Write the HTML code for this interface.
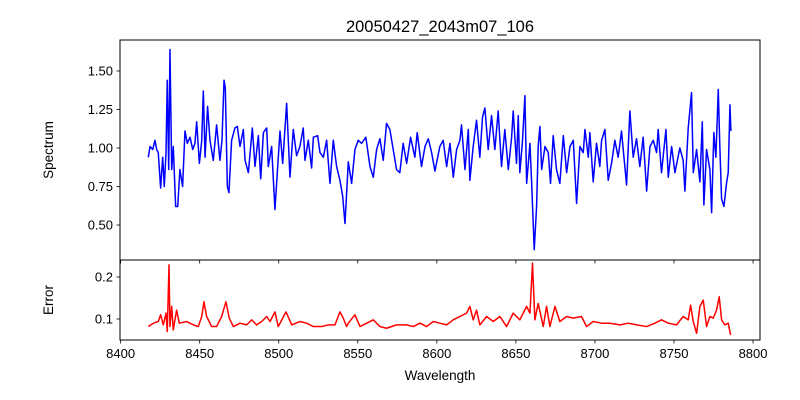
<!DOCTYPE html>
<html><head><meta charset="utf-8"><style>
body{margin:0;background:#fff}
svg{display:block;font-family:"Liberation Sans","DejaVu Sans",sans-serif}
</style></head><body>
<svg id="chart" width="800" height="400" viewBox="0 0 800 400" xmlns="http://www.w3.org/2000/svg">
<rect width="800" height="400" fill="#fff"/>
<text x="440" y="32" font-size="16.5" text-anchor="middle">20050427_2043m07_106</text>
<text x="53" y="150" font-size="13.5" text-anchor="middle" transform="rotate(-90 53 150)">Spectrum</text>
<text x="53" y="300" font-size="13.5" text-anchor="middle" transform="rotate(-90 53 300)">Error</text>
<text x="440" y="380" font-size="13.5" text-anchor="middle">Wavelength</text>
<g id="plots"></g>
</svg>
<script>
const specWl=[8417.5,8418.6,8420.3,8421.7,8422.8,8423.8,8425.3,8426.6,8427.6,8428.7,8429.5,8430.4,8431.2,8432.3,8433.3,8434.8,8436.1,8437.5,8439.2,8440.7,8442.2,8443.9,8445.6,8447.0,8448.1,8449.8,8451.3,8452.3,8453.4,8455.0,8456.5,8458.6,8460.7,8462.8,8464.1,8465.4,8466.2,8467.5,8468.5,8470.2,8472.3,8473.8,8475.5,8477.6,8478.7,8480.8,8483.3,8485.0,8487.1,8488.6,8490.3,8492.4,8493.4,8495.5,8497.6,8499.1,8500.8,8502.5,8505.0,8507.1,8509.2,8511.3,8513.4,8515.5,8516.6,8518.7,8520.8,8521.9,8524.6,8526.1,8528.2,8530.3,8532.4,8534.5,8536.6,8538.7,8540.4,8541.9,8544.0,8546.1,8548.2,8550.3,8552.4,8555.1,8557.7,8559.8,8561.9,8564.0,8566.1,8568.2,8570.3,8572.4,8574.5,8576.6,8578.7,8580.9,8583.4,8586.1,8587.6,8590.3,8592.5,8594.6,8596.7,8598.8,8601.9,8604.0,8606.2,8608.3,8610.4,8612.5,8614.6,8615.6,8617.8,8619.9,8620.9,8623.0,8625.1,8627.2,8628.9,8630.4,8632.5,8634.6,8636.7,8638.8,8640.9,8643.0,8645.2,8647.3,8648.3,8650.4,8651.5,8652.5,8654.2,8655.7,8656.8,8658.9,8659.9,8661.6,8663.1,8664.1,8665.2,8666.3,8668.4,8670.5,8671.9,8673.6,8675.7,8677.8,8680.0,8682.1,8684.2,8686.3,8688.4,8690.5,8692.6,8693.7,8695.8,8696.8,8698.9,8701.0,8703.1,8704.2,8706.3,8708.4,8710.5,8712.6,8714.7,8716.8,8720.0,8722.1,8724.2,8726.3,8728.4,8730.5,8732.7,8734.8,8736.9,8739.0,8740.0,8742.1,8744.9,8746.4,8748.5,8750.6,8753.7,8755.8,8756.9,8759.0,8761.1,8762.2,8764.3,8766.4,8767.9,8768.9,8770.6,8772.7,8773.8,8775.2,8776.5,8778.0,8779.0,8780.1,8781.6,8783.2,8784.3,8785.4,8786.0];
const specFlux=[0.94,1.01,0.99,1.05,0.99,0.97,0.74,0.94,0.75,0.97,1.44,0.86,1.64,0.86,1.01,0.62,0.62,0.86,0.75,1.11,1.03,1.07,0.99,1.03,1.17,0.90,1.05,1.37,0.94,1.27,1.05,0.92,1.15,0.92,1.05,1.44,1.39,0.75,0.71,1.05,1.13,1.14,1.01,1.12,0.92,0.84,1.13,0.88,1.08,0.80,1.10,1.13,0.88,1.01,0.60,0.84,1.11,0.90,1.29,0.81,1.12,0.95,1.01,1.13,0.92,1.05,0.87,1.07,1.08,0.97,0.94,1.05,0.77,1.05,0.88,0.79,0.69,0.51,0.91,0.77,0.99,1.05,1.03,1.07,0.88,0.81,0.99,1.06,0.92,1.16,1.12,0.99,0.86,0.84,1.03,0.90,1.07,0.94,1.10,0.88,1.01,1.06,0.97,0.85,1.01,1.05,0.88,1.03,0.81,0.99,1.05,1.15,0.86,1.12,0.79,1.01,1.18,0.94,1.20,1.26,0.99,1.21,0.99,1.24,0.88,1.12,0.86,1.07,1.24,0.90,1.21,0.84,1.05,1.34,0.77,1.03,0.79,0.34,0.62,1.01,1.14,0.86,1.01,0.97,0.77,1.08,0.86,0.77,1.08,0.84,1.01,1.05,0.64,1.01,0.97,1.12,0.94,1.10,0.78,1.03,0.88,1.05,1.12,0.79,0.90,1.05,0.94,1.11,0.76,1.24,0.94,1.06,0.88,1.07,0.72,1.01,1.05,0.97,1.12,0.84,1.12,0.81,1.01,0.84,1.00,0.92,0.72,1.13,1.36,0.84,0.99,0.78,1.17,0.63,0.99,0.86,0.58,1.10,0.94,1.38,1.01,0.67,0.62,0.77,0.84,1.28,1.11];
const errWl=[8417.5,8420.7,8423.8,8425.3,8427.0,8428.7,8429.5,8430.6,8431.2,8432.3,8433.3,8435.4,8437.1,8441.8,8446.0,8449.1,8451.3,8452.7,8454.4,8457.6,8460.7,8463.9,8466.6,8468.7,8471.3,8475.5,8479.7,8482.9,8486.0,8489.2,8492.4,8494.5,8497.6,8499.7,8504.6,8508.2,8513.4,8517.6,8521.9,8527.1,8531.4,8535.6,8538.7,8540.8,8542.9,8544.0,8548.2,8551.4,8555.6,8559.8,8564.0,8568.2,8574.5,8580.9,8585.1,8589.3,8593.5,8597.8,8602.0,8606.2,8610.4,8614.6,8618.8,8620.9,8623.0,8625.1,8627.2,8631.5,8635.7,8639.9,8644.1,8648.3,8652.5,8656.8,8658.9,8660.5,8662.0,8664.1,8667.3,8669.4,8671.5,8674.7,8677.8,8682.1,8686.3,8691.5,8694.7,8698.9,8704.2,8709.5,8715.8,8721.1,8726.3,8732.7,8737.9,8742.1,8746.4,8751.6,8755.8,8759.0,8760.5,8762.2,8764.3,8766.4,8768.5,8770.6,8772.7,8774.8,8776.9,8778.6,8780.1,8782.2,8784.3,8785.8];
const errVal=[0.082,0.090,0.094,0.110,0.086,0.114,0.070,0.229,0.082,0.130,0.074,0.121,0.090,0.094,0.086,0.082,0.106,0.141,0.106,0.082,0.082,0.106,0.141,0.102,0.082,0.090,0.086,0.098,0.086,0.094,0.106,0.094,0.117,0.082,0.117,0.086,0.094,0.090,0.082,0.082,0.086,0.086,0.117,0.102,0.082,0.090,0.110,0.082,0.090,0.098,0.082,0.078,0.086,0.086,0.082,0.090,0.082,0.094,0.090,0.086,0.098,0.106,0.114,0.130,0.098,0.121,0.086,0.106,0.094,0.106,0.082,0.114,0.098,0.130,0.114,0.233,0.098,0.137,0.082,0.130,0.082,0.130,0.094,0.106,0.102,0.106,0.082,0.094,0.090,0.090,0.086,0.090,0.086,0.082,0.090,0.098,0.090,0.086,0.106,0.098,0.133,0.094,0.066,0.130,0.145,0.082,0.106,0.102,0.121,0.153,0.098,0.086,0.090,0.062];
const xTicks=[8400,8450,8500,8550,8600,8650,8700,8750,8800];
const specTicks=[0.50,0.75,1.00,1.25,1.50];
const specTickLabels=["0.50","0.75","1.00","1.25","1.50"];
const errTicks=[0.1,0.2];
const errTickLabels=["0.1","0.2"];

const NS="http://www.w3.org/2000/svg";
const L=120,R=760,T1=40,B1=260,T2=260,B2=340;
const xMin=8399.6,xMax=8804.4;
const xs=v=>L+(v-xMin)/(xMax-xMin)*(R-L);
const ys1=v=>71+(1.5-v)*154;
const ys2=v=>277+(0.2-v)*420;
const g=document.getElementById('plots');
function mk(tag,attrs){const e=document.createElementNS(NS,tag);for(const k in attrs)e.setAttribute(k,attrs[k]);g.appendChild(e);return e;}

function line(xArr,yArr,ys,color,name,top,bot){
  const cp=mk('clipPath',{id:'clip-'+name});
  const r=document.createElementNS(NS,'rect');r.setAttribute('x',L);r.setAttribute('y',top);r.setAttribute('width',R-L);r.setAttribute('height',bot-top);cp.appendChild(r);
  const d=xArr.map((w,i)=>(i?'L':'M')+xs(w).toFixed(2)+' '+ys(yArr[i]).toFixed(2)).join(' ');
  const p=mk('path',{d:d,fill:'none',stroke:color,'stroke-width':1.5,'stroke-linejoin':'round','clip-path':'url(#clip-'+name+')'});
  
  
}
line(specWl,specFlux,ys1,'#0000ff','spectrum-line',T1,B1);
line(errWl,errVal,ys2,'#ff0000','error-line',T2,B2);

// frames
const f1=mk('rect',{x:L,y:T1,width:R-L,height:B1-T1,fill:'none',stroke:'#000','stroke-width':1});


const f2=mk('rect',{x:L,y:T2,width:R-L,height:B2-T2,fill:'none',stroke:'#000','stroke-width':1});



specTicks.forEach((v,i)=>{
  const y=ys1(v);
  mk('line',{x1:L-3.5,x2:L,y1:y,y2:y,stroke:'#000','stroke-width':0.8});
  const t=mk('text',{x:L-7,y:y+4.5,'font-size':13,'text-anchor':'end'});
  t.textContent=specTickLabels[i];
  
  
});
errTicks.forEach((v,i)=>{
  const y=ys2(v);
  mk('line',{x1:L-3.5,x2:L,y1:y,y2:y,stroke:'#000','stroke-width':0.8});
  const t=mk('text',{x:L-7,y:y+4.5,'font-size':13,'text-anchor':'end'});
  t.textContent=errTickLabels[i];
  
  
});
xTicks.forEach(v=>{
  const x=xs(v);
  mk('line',{x1:x,x2:x,y1:B2,y2:B2+3.5,stroke:'#000','stroke-width':0.8});
  mk('line',{x1:x,x2:x,y1:B1,y2:B1+3.5,stroke:'#000','stroke-width':0.8});
  const t=mk('text',{x:x,y:B2+18,'font-size':13,'text-anchor':'middle'});
  t.textContent=String(v);
  
  
});
</script>
</body></html>
